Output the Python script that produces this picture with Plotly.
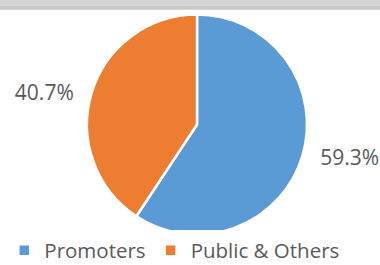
import plotly.graph_objects as go

labels = ["Promoters", "Public & Others"]
values = [59.3, 40.7]
colors = ["#5B9BD5", "#ED7D31"]

W, H = 380, 265
cx, cy, r = 197, 124.5, 110
NB = "\u00a0"

fig = go.Figure(go.Pie(
    labels=labels,
    values=values,
    sort=False,
    direction="clockwise",
    rotation=0,
    marker=dict(colors=colors, line=dict(color="white", width=2.5)),
    textposition="outside",
    texttemplate=[NB * 2 + "%{percent:.1%}", "%{percent:.1%}" + NB * 2],
    textfont=dict(family="Open Sans", size=21, color="#595959"),
    domain=dict(x=[(cx - 150) / W, (cx + 150) / W], y=[(H - cy - r) / H, (H - cy + r) / H]),
    hoverinfo="skip",
))

# top gray bar: light band with a slightly darker lower edge
shapes = [
    dict(type="rect", xref="paper", yref="paper", x0=0, x1=1,
         y0=1 - 10 / H, y1=1.0, fillcolor="#d6d6d6", line=dict(width=0), layer="above"),
    dict(type="rect", xref="paper", yref="paper", x0=0, x1=1,
         y0=1 - 9 / H, y1=1 - 6 / H, fillcolor="#c8c8c8", line=dict(width=0), layer="above"),
]

fig.update_layout(
    width=W, height=H,
    margin=dict(l=0, r=0, t=0, b=0, autoexpand=False),
    paper_bgcolor="white",
    shapes=shapes,
    showlegend=True,
    legend=dict(orientation="h", x=0.46, xanchor="center", y=-0.02, yanchor="bottom",
                font=dict(family="Open Sans", size=20.5, color="#595959"),
                itemclick=False, traceorder="normal", itemwidth=30),
)

fig.write_html("out.html", config={"displayModeBar": False},
               post_script="document.body.style.margin='0';")
